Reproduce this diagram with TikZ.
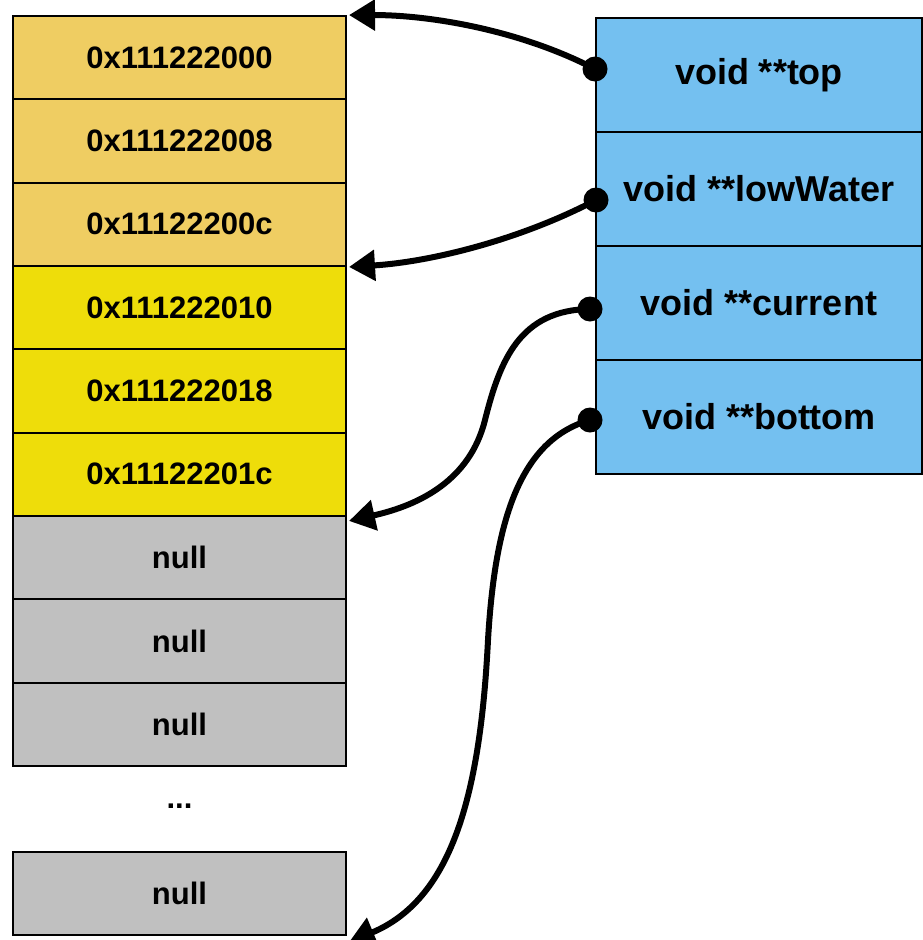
\documentclass[tikz,border=0pt]{standalone}
\usepackage{fontspec}
\setmainfont{Liberation Sans}
\usetikzlibrary{arrows.meta}
\definecolor{cOrange}{RGB}{239,205,98}
\definecolor{cYellow}{RGB}{238,221,10}
\definecolor{cGray}{RGB}{192,192,192}
\definecolor{cBlue}{RGB}{116,192,240}
\tikzset{
  cell/.style={draw=black, line width=2pt, minimum width=333pt, minimum height=83.3pt, inner sep=0pt,
     font=\fontsize{31}{34}\selectfont\bfseries},
  rcell/.style={draw=black, line width=2.2pt, minimum width=326pt, minimum height=114pt, inner sep=0pt, fill=cBlue,
     font=\fontsize{36}{40}\selectfont\bfseries},
  ptr/.style={line width=6pt, -{Triangle[length=26pt,width=30pt]}},
  dotc/.style={fill=black, circle, inner sep=0pt, minimum size=25pt}
}
\begin{document}
\begin{tikzpicture}[x=1pt,y=-1pt]
\useasboundingbox (0,0) rectangle (923,940);
% left column
\node[cell, fill=cOrange] (c1) at (179.5,57.7) {0x111222000};
\node[cell, fill=cOrange] (c2) at (179.5,141.0) {0x111222008};
\node[cell, fill=cOrange] (c3) at (179.5,224.3) {0x11122200c};
\node[cell, fill=cYellow] (c4) at (179.5,307.7) {0x111222010};
\node[cell, fill=cYellow] (c5) at (179.5,391.0) {0x111222018};
\node[cell, fill=cYellow] (c6) at (179.5,474.3) {0x11122201c};
\node[cell, fill=cGray] (c7) at (179.5,557.7) {null};
\node[cell, fill=cGray] (c8) at (179.5,641.0) {null};
\node[cell, fill=cGray] (c9) at (179.5,724.3) {null};
\node[font=\fontsize{31}{34}\selectfont\bfseries] (dots) at (179.5,806) {...};
\node[cell, fill=cGray] (cl) at (179.5,893.5) {null};
% right column
\node[rcell] (r1) at (759,75) {void **top};
\node[rcell] (r2) at (759,189) {void **lowWater};
\node[rcell] (r3) at (759,303) {void **current};
\node[rcell] (r4) at (759,417) {void **bottom};
% dots
\node[dotc] (d1) at (595,69) {};
\node[dotc] (d2) at (596,200) {};
\node[dotc] (d3) at (590,309) {};
\node[dotc] (d4) at (590,420) {};
\coordinate (e1) at ([xshift=2pt]c1.north east);
\coordinate (e2) at ([xshift=2pt]c3.south east);
\coordinate (e3) at ([xshift=2pt,yshift=-4pt]c6.south east);
\coordinate (e4) at ([xshift=2pt,yshift=-6pt]cl.south east);
% connectors
\draw[ptr] (d1.center) .. controls (520,30) and (430,15) .. (e1);
\draw[ptr] (d2.center) .. controls (520,240) and (430,262) .. (e2);
\draw[ptr] (d3.center) .. controls (520,310) and (500,360) .. (485,420) .. controls (470,480) and (420,505) .. (e3);
\draw[ptr] (d4.center) .. controls (520,440) and (495,520) .. (488,640) .. controls (480,800) and (450,900) .. (e4);
\end{tikzpicture}
\end{document}
